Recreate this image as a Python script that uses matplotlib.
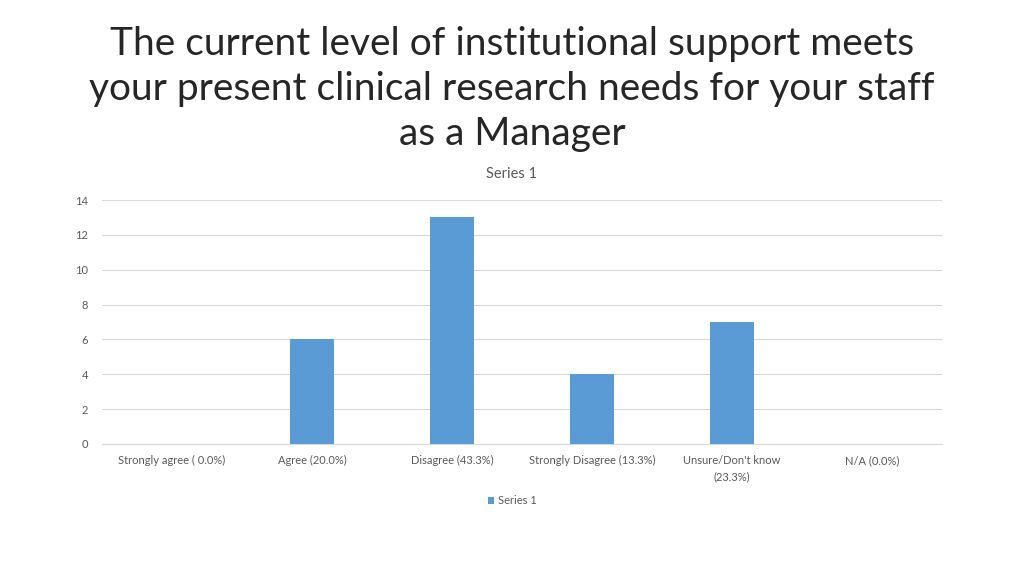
import matplotlib
matplotlib.use('Agg')
import matplotlib.pyplot as plt
import numpy as np

plt.rcParams['font.family'] = ['Lato', 'DejaVu Sans']

categories = ['Strongly agree ( 0.0%)', 'Agree (20.0%)', 'Disagree (43.3%)',
              'Strongly Disagree (13.3%)', "Unsure/Don't know\n(23.3%)", 'N/A (0.0%)']
values = [0, 6, 13, 4, 7, 0]
yticks = [0, 2, 4, 6, 8, 10, 12, 14]

W, H = 1024, 576
fig = plt.figure(figsize=(W/100, H/100), dpi=100)
ax = fig.add_axes([102/W, 1 - 444/H, 840/W, 244/H])

x = np.arange(len(categories))
ax.bar(x, values, width=0.314, color='#5b9bd5', label='Series 1', zorder=3)

ax.set_xlim(-0.5, len(categories) - 0.5)
ax.set_ylim(0, 14)
ax.set_yticks(yticks)
ax.set_xticks(x)
ax.set_xticklabels(categories, fontsize=8, color='#595959', linespacing=1.6)
ax.tick_params(axis='y', labelsize=8, colors='#595959', length=0, pad=10)
ax.tick_params(axis='x', length=0, pad=8)
ax.grid(axis='y', color='#d9d9d9', linewidth=0.8, zorder=0)
for s in ['top', 'right', 'left']:
    ax.spines[s].set_visible(False)
ax.spines['bottom'].set_color('#d9d9d9')

fig.text(512/W, 1 - 89/H,
         'The current level of institutional support meets\n'
         'your present clinical research needs for your staff\n'
         'as a Manager',
         ha='center', va='center', fontsize=28,
         color='#262626', linespacing=1.32)
fig.text(512/W, 1 - 174/H, 'Series 1', ha='center', va='center', fontsize=10.5, color='#595959')

leg = fig.legend(loc='center', bbox_to_anchor=(512/W, 1 - 501/H), frameon=False,
                 fontsize=8, handlelength=0.6, handleheight=0.6, handletextpad=0.3)
for t in leg.get_texts():
    t.set_color('#595959')

fig.savefig('out.png', dpi=100)
